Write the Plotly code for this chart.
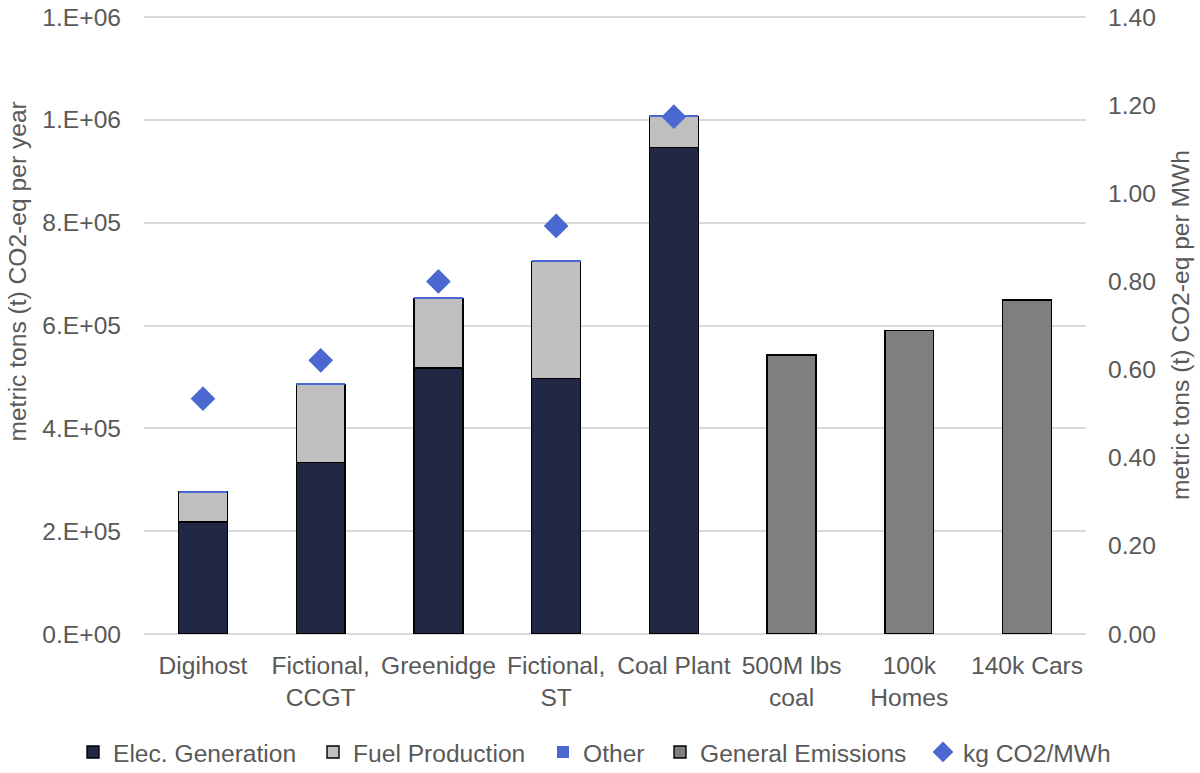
import plotly.graph_objs as go

# categories on the x axis
categories = ['Digihost', 'Fictional,<br>CCGT', 'Greenidge', 'Fictional,<br>ST', 'Coal Plant',
              '500M lbs<br>coal', '100k<br>Homes', '140k Cars']

# stacked emissions, metric tons CO2-eq per year (None = no bar)
elec_generation = [218000, 333000, 517000, 497000, 946000, None, None, None]
fuel_production = [58000, 152000, 135000, 228000, 60000, None, None, None]
other = [3000, 3000, 3000, 3000, 3000, None, None, None]
general_emissions = [None, None, None, None, None, 543000, 590000, 650000]

# intensity, metric tons CO2-eq per MWh (right axis)
kg_per_mwh = [0.534, 0.621, 0.800, 0.926, 1.174, None, None, None]

# tick labels
left_tickvals = [0, 200000, 400000, 600000, 800000, 1000000, 1200000]
left_ticktext = ['0.E+00', '2.E+05', '4.E+05', '6.E+05', '8.E+05', '1.E+06', '1.E+06']
right_tickvals = [0, 0.2, 0.4, 0.6, 0.8, 1.0, 1.2, 1.4]
right_ticktext = ['0.00', '0.20', '0.40', '0.60', '0.80', '1.00', '1.20', '1.40']

font_color = '#595959'
fsize = 24.6
outline = dict(color='#000000', width=1.4)

fig_w, fig_h = 1200, 773
#tiny headroom so the top gridline is still drawn
y_top = 1202000
y2_top = 1.4 * y_top / 1200000

traces = []
traces.append(go.Bar(x=categories, y=elec_generation, name='Elec. Generation', legend='legend',
                     marker=dict(color='#222744', line=outline)))
traces.append(go.Bar(x=categories, y=fuel_production, name='Fuel Production', legend='legend2',
                     marker=dict(color='#BFBFBF', line=outline)))
traces.append(go.Bar(x=categories, y=other, name='Other', legend='legend3',
                     marker=dict(color='#4A68CF', line=dict(width=0))))
traces.append(go.Bar(x=categories, y=general_emissions, name='General Emissions', legend='legend4',
                     marker=dict(color='#7F7F7F', line=outline)))
traces.append(go.Scatter(x=categories, y=kg_per_mwh, name='kg CO2/MWh', yaxis='y2', legend='legend5',
                         mode='markers',
                         marker=dict(symbol='diamond', size=19, color='#4A68CF')))

#one legend per item so the row can be spaced like the original
def legend_box(left_px):
    return dict(orientation='h', x=left_px / fig_w, xref='container', xanchor='left',
                y=0.0272, yref='container', yanchor='middle',
                font=dict(size=fsize, color=font_color), itemwidth=30,
                bgcolor='rgba(0,0,0,0)')

layout = go.Layout(
    width=fig_w, height=fig_h,
    barmode='stack',
    bargap=0.585,
    paper_bgcolor='white',
    plot_bgcolor='white',
    font=dict(family='Liberation Sans, Arial, sans-serif', size=fsize, color=font_color),
    margin=dict(l=143.5, r=114, t=15.5, b=139),
    xaxis=dict(showline=False, ticks='', automargin=False, ticklabelstandoff=14,
               tickfont=dict(size=fsize, color=font_color)),
    yaxis=dict(range=[0, y_top], tickvals=left_tickvals, ticktext=left_ticktext,
               showgrid=True, gridcolor='#D9D9D9', gridwidth=1.5,
               zeroline=True, zerolinecolor='#D9D9D9', zerolinewidth=1.5,
               ticks='', automargin=False, ticklabelstandoff=22, ticklabeloverflow='allow'),
    yaxis2=dict(range=[0, y2_top], tickvals=right_tickvals, ticktext=right_ticktext,
                overlaying='y', side='right', showgrid=False, zeroline=False,
                ticks='', automargin=False, ticklabelstandoff=21, ticklabeloverflow='allow',
                title=dict(text='metric tons (t) CO2-eq per MWh',
                           font=dict(size=fsize, color=font_color), standoff=16)),
    legend=legend_box(73),
    legend2=legend_box(313),
    legend3=legend_box(543),
    legend4=legend_box(660),
    legend5=legend_box(923),
    showlegend=True,
    annotations=[dict(text='metric tons (t) CO2-eq per year', textangle=-90,
                      xref='paper', yref='paper', x=-0.1342, y=0.5858,
                      xanchor='center', yanchor='middle', showarrow=False,
                      font=dict(size=fsize, color=font_color))],
)

fig = go.Figure(data=traces, layout=layout)
#drop the default 8px body margin so the figure fills the window
fig.write_html('out.html', config={'displayModeBar': False},
               post_script="document.body.style.margin='0';")
